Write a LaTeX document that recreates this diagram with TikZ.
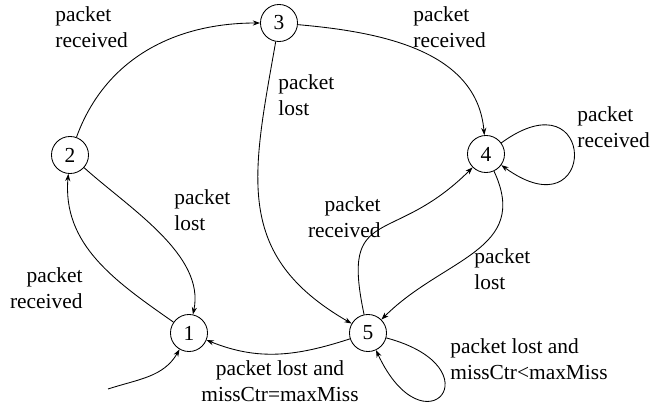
\documentclass[tikz,border=0pt]{standalone}
\usepackage{fontspec}
\setmainfont{Liberation Serif}
\usetikzlibrary{arrows.meta}

\begin{document}
\begin{tikzpicture}[x=0.1642cm,y=0.1642cm,>={Stealth[length=3.4pt,width=2.4pt]},
    state/.style={circle,draw,minimum size=17.3pt,inner sep=0pt},
    lbl/.style={inner sep=0pt,align=left}]
  \useasboundingbox (0,0) rectangle (66,40.9);
  \node[state] (s1) at (18.9,7.6) {1};
  \node[state] (s2) at (7.0,25.4) {2};
  \node[state] (s3) at (27.9,38.6) {3};
  \node[state] (s4) at (48.6,25.5) {4};
  \node[state] (s5) at (36.8,7.6) {5};
  \coordinate (start) at (10.8,2.0);
  \draw[->] (start) to[out=18,in=-120] (s1);
  \draw[->] (s2) to[out=70,in=180] (s3);
  \draw[->] (s3) to[out=-5,in=95] (s4);
  \draw[->] (s3) to[out=-100,in=150,looseness=1.2] (s5);
  \draw[->] (s2) to[out=-42,in=78,looseness=0.85] (s1);
  \draw[->] (s1) to[out=145,in=-95] (s2);
  \draw[->] (s5) to[out=198,in=-22] (s1);
  \draw[->] (s5) to[out=102,in=-135,looseness=1.6] (s4);
  \draw[->] (s4) to[out=-65,in=45,looseness=1.2] (s5);
  \draw[->] (s4) to[out=36,in=-36,min distance=56pt] (s4);
  \draw[->] (s5) to[out=-15,in=-65,min distance=54pt] (s5);
  \node[lbl,anchor=west] (l23) at (5.5,38.15) {packet\\received};
  \node[lbl,anchor=west] (l34) at (41.3,38.15) {packet\\received};
  \node[lbl,anchor=west] (l35) at (27.8,31.4) {packet\\lost};
  \node[lbl,anchor=west] (l21) at (17.4,19.9) {packet\\lost};
  \node[lbl,align=right,anchor=east] (l12) at (8.3,12.1) {packet\\received};
  \node[lbl,align=right,anchor=east] (l54) at (38.1,19.2) {packet\\received};
  \node[lbl,anchor=west] (l45) at (47.4,14.0) {packet\\lost};
  \node[lbl,anchor=west] (l44) at (57.7,28.2) {packet\\received};
  \node[lbl,align=center] (l51) at (28.0,2.8) {packet lost and\\missCtr=maxMiss};
  \node[lbl,anchor=west] (l55) at (45.0,5.0) {packet lost and\\missCtr<maxMiss};
\end{tikzpicture}
\end{document}
